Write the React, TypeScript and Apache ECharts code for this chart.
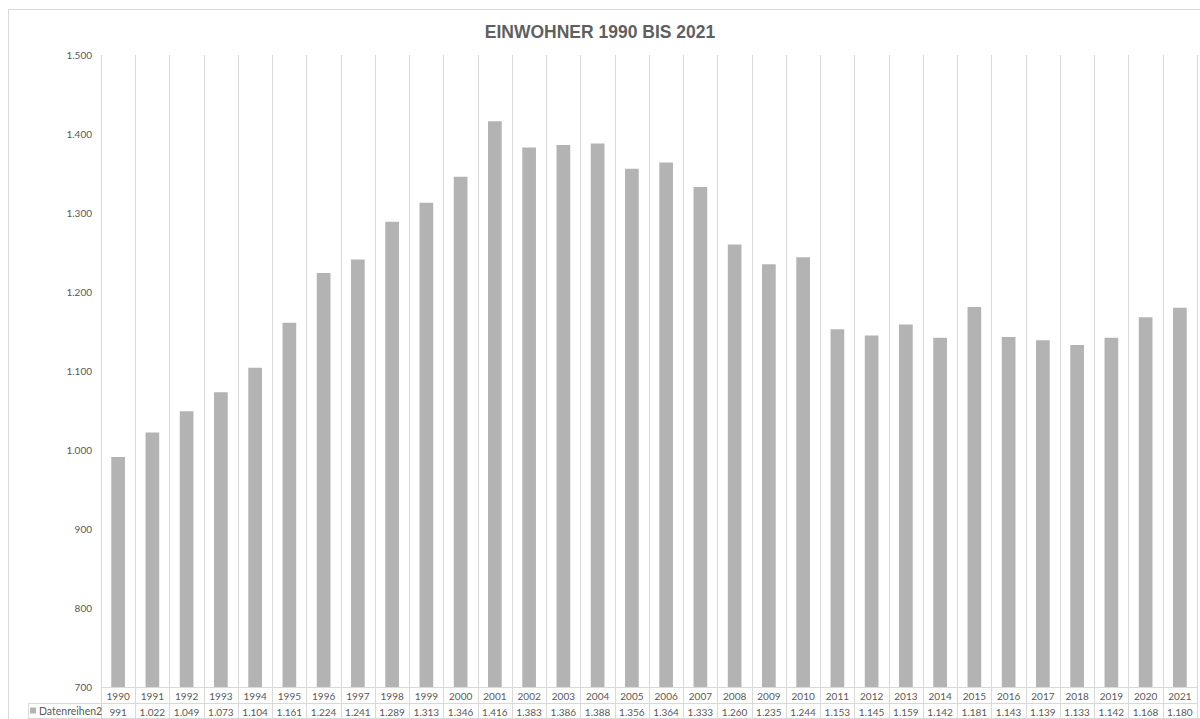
import React, { useEffect, useRef } from "react";
import * as echarts from "echarts";

const years: string[] = [
  "1990", "1991", "1992", "1993", "1994", "1995", "1996", "1997", "1998", "1999",
  "2000", "2001", "2002", "2003", "2004", "2005", "2006", "2007", "2008", "2009",
  "2010", "2011", "2012", "2013", "2014", "2015", "2016", "2017", "2018", "2019",
  "2020", "2021",
];
const einwohner: number[] = [
  991, 1022, 1049, 1073, 1104, 1161, 1224, 1241, 1289, 1313,
  1346, 1416, 1383, 1386, 1388, 1356, 1364, 1333, 1260, 1235,
  1244, 1153, 1145, 1159, 1142, 1181, 1143, 1139, 1133, 1142,
  1168, 1180,
];
const seriesName = "Datenreihen2";
const titleText = "EINWOHNER 1990 BIS 2021";
const yMin = 700;
const yMax = 1500;
const yStep = 100;

const fmt = (n: number): string =>
  n >= 1000 ? Math.floor(n / 1000) + "." + String(n % 1000).padStart(3, "0") : String(n);

const FONT = "Lato, 'Open Sans', sans-serif";
const TXT = "#595959";
const LINE = "#d9d9d9";

export default function App() {
  const ref = useRef<HTMLDivElement>(null);
  useEffect(() => {
    if (!ref.current) return;
    const chart = echarts.init(ref.current, null, { renderer: "svg" });
    chart.setOption({
      animation: false,
      backgroundColor: "#ffffff",
      textStyle: { fontFamily: FONT },
      title: {
        text: titleText,
        left: "center",
        top: 18,
        textStyle: {
          fontFamily: "'Liberation Sans', Arial, sans-serif",
          fontSize: 17.5,
          fontWeight: "bold",
          color: "#5f5f5f",
        },
      },
      legend: {
        left: 30,
        top: 705,
        icon: "rect",
        itemWidth: 6,
        itemHeight: 6,
        itemGap: 4,
        padding: 0,
        data: [seriesName],
        textStyle: { fontFamily: FONT, fontSize: 10.5, color: TXT, padding: [0, 0, 0, -2] },
      },
      grid: { left: 101, right: 3, top: 55, bottom: 32, containLabel: false },
      xAxis: [
        {
          type: "category",
          data: years,
          boundaryGap: true,
          position: "bottom",
          axisLine: { show: true, lineStyle: { color: LINE, width: 1 } },
          axisTick: { show: true, length: 16, lineStyle: { color: LINE, width: 1 } },
          splitLine: { show: true, lineStyle: { color: LINE, width: 1 } },
          axisLabel: {
            interval: 0,
            margin: 4,
            fontFamily: FONT,
            fontSize: 10,
            color: TXT,
          },
        },
        {
          type: "category",
          data: einwohner.map(fmt),
          boundaryGap: true,
          position: "bottom",
          offset: 16,
          axisLine: { show: true, lineStyle: { color: LINE, width: 1 } },
          axisTick: { show: true, length: 16, lineStyle: { color: LINE, width: 1 } },
          splitLine: { show: false },
          axisLabel: {
            interval: 0,
            margin: 4,
            fontFamily: FONT,
            fontSize: 10,
            color: TXT,
          },
        },
      ],
      yAxis: {
        type: "value",
        min: yMin,
        max: yMax,
        interval: yStep,
        axisLine: { show: false },
        axisTick: { show: false },
        splitLine: { show: false },
        axisLabel: {
          margin: 9,
          fontFamily: FONT,
          fontSize: 10,
          color: TXT,
          formatter: (v: number) => fmt(v),
        },
      },
      series: [
        {
          name: seriesName,
          type: "bar",
          data: einwohner,
          barWidth: "40%",
          itemStyle: { color: "#b3b3b3" },
        },
      ],
      graphic: [
        {
          type: "rect",
          silent: true,
          shape: { x: 8.5, y: 9.5, width: 1300, height: 800 },
          style: { fill: "none", stroke: LINE, lineWidth: 1 },
          z: -10,
        },
        {
          type: "line",
          silent: true,
          shape: { x1: 28.5, y1: 703.5, x2: 101, y2: 703.5 },
          style: { stroke: LINE, lineWidth: 1 },
        },
        {
          type: "line",
          silent: true,
          shape: { x1: 28.5, y1: 703.5, x2: 28.5, y2: 719 },
          style: { stroke: LINE, lineWidth: 1 },
        },
        {
          type: "line",
          silent: true,
          shape: { x1: 28.5, y1: 718.5, x2: 1200, y2: 718.5 },
          style: { stroke: LINE, lineWidth: 1 },
        },
      ],
    });
    return () => chart.dispose();
  }, []);
  return (
    <div
      ref={ref}
      style={{ position: "fixed", left: 0, top: 0, width: 1200, height: 719, overflow: "hidden" }}
    />
  );
}
